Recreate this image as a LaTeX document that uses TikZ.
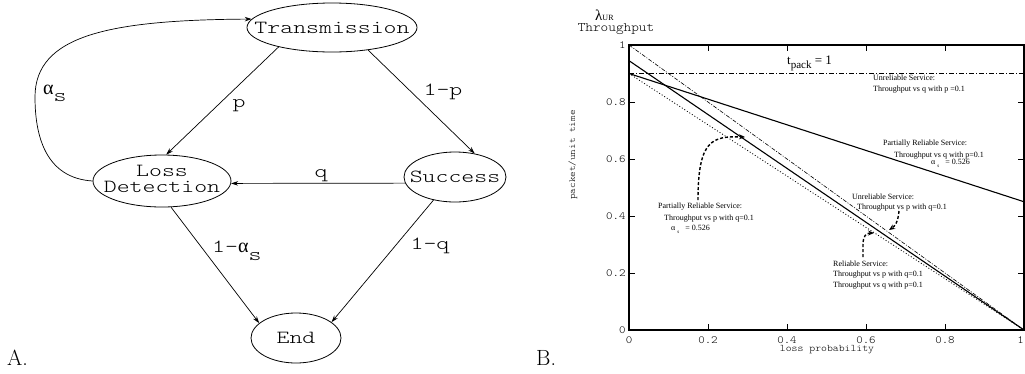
\documentclass[tikz,border=0pt]{standalone}
\usepackage{fontspec}
\newfontfamily\cour[FakeStretch=1.33]{lmmonolt10-regular.otf}
\newfontfamily\courp[FakeStretch=1.12]{lmmonolt10-regular.otf}
\newfontfamily\tms{Liberation Serif}
\usetikzlibrary{arrows.meta,shapes.geometric}
\newcommand\bigmono{\cour\fontsize{18.5}{14.5}\selectfont}
\newcommand\alp{{\tms\fontsize{20}{20}\selectfont α}}
\begin{document}
\begin{tikzpicture}[x=1pt,y=-1pt,
  state/.style={ellipse,draw,line width=0.8pt,inner sep=0pt},
  edge/.style={draw,line width=0.7pt,-{Stealth[length=7pt,width=4.5pt]}},
  lbl/.style={inner sep=0pt,font=\bigmono},
  tick/.style={inner sep=0pt,font=\courp\fontsize{11}{11}\selectfont},
  ann/.style={inner sep=0pt,anchor=west,font=\tms\fontsize{8}{8}\selectfont},
  darr/.style={line width=1.4pt,dash pattern=on 3pt off 2pt,-{Stealth[length=6pt,width=5pt]}},
  curve/.style={line width=1.1pt}]
\useasboundingbox (0,0) rectangle (1025,373);

% ---------- A: state diagram ----------
\node[state,minimum width=170pt,minimum height=49pt] (T) at (332,27.5)
  {\makebox[0pt]{\bigmono Transmission}};
\node[state,minimum width=138pt,minimum height=52pt] (LD) at (162,181)
  {\makebox[0pt]{\bigmono\begin{tabular}{@{}c@{}}Loss\\Detection\end{tabular}}};
\node[state,minimum width=102pt,minimum height=50pt] (S) at (455,177)
  {\makebox[0pt]{\bigmono Success}};
\node[state,minimum width=90pt,minimum height=50pt] (E) at (296,338)
  {\makebox[0pt]{\bigmono End}};

\draw[edge] (T.200) -- (LD.81);
\draw[edge] (T.328) -- (S.50);
\draw[edge] (S.187) -- (LD.358);
\draw[edge] (LD.289) -- (E.158);
\draw[edge] (S.227) -- (E.24);
\draw[edge] (LD.west) .. controls (45,178) and (35,135) .. (35,97)
  .. controls (35,35) and (110,20) .. (T.174);

\node[lbl,anchor=base] (lp) at (239,107) {p};
\node[lbl,anchor=base] (l1p) at (443,95) {1-p};
\node[lbl,anchor=base] (lq) at (321,177) {q};
\node[lbl,anchor=base] (l1q) at (430,249) {1-q};
\node[lbl,anchor=base west] (l1a) at (212,252) {1-\alp\raisebox{-8pt}{s}};
\node[lbl,anchor=base west] (la) at (43,94) {\alp\raisebox{-7pt}{s}};

\node[inner sep=0pt,anchor=base west,font=\fontsize{22}{22}\selectfont] (A) at (7,365) {A.};
\node[inner sep=0pt,anchor=base west,font=\fontsize{22}{22}\selectfont] (B) at (536,365) {B.};

% ---------- B: plot ----------
\node[inner sep=0pt,anchor=base west] (lam) at (595,20)
  {{\tms\fontsize{15}{15}\selectfont λ}{\tms\fontsize{8}{8}\selectfont UR}};
\node[inner sep=0pt,font=\courp\fontsize{13}{13}\selectfont] (thr) at (616,29) {Throughput};
\node[inner sep=0pt,rotate=90,font=\courp\fontsize{9.5}{9.5}\selectfont] (ylab) at (573,155) {packet/unit time};
\node[inner sep=0pt,font=\courp\fontsize{10}{10}\selectfont] (xlab) at (827,350) {loss probability};

\begin{scope}[shift={(629,330)},x=395pt,y=285pt]
  \draw[line width=1.1pt] (0,0) rectangle (1,1);
  \foreach \t in {0.2,0.4,0.6,0.8} {
    \draw[line width=0.7pt] (\t,0) -- (\t,0.022);
    \draw[line width=0.7pt] (\t,1) -- (\t,0.978);
    \draw[line width=0.7pt] (0,\t) -- (0.016,\t);
    \draw[line width=0.7pt] (1,\t) -- (0.984,\t);
  }
  \foreach \t/\n in {0/a,0.2/b,0.4/c,0.6/d,0.8/e} {
    \node[tick] (xt\n) at (\t,-0.035) {\t};
  }
  \node[tick,anchor=east] (xtf) at (1.0,-0.035) {1};
  \foreach \t/\n in {0/a,0.2/b,0.4/c,0.6/d,0.8/e,1/f} {
    \node[tick,anchor=east] (yt\n) at (-0.008,\t) {\t};
  }
  % curves
  \draw[line width=0.8pt,dash pattern=on 5pt off 2pt on 1pt off 2pt] (0,0.9) -- (1,0.9);
  \draw[line width=0.6pt,dash pattern=on 4pt off 1.5pt on 1pt off 1.5pt] (0,1) -- (1,0);
  \draw[curve] (0,0.945) -- (1,0);
  \draw[curve] (0,0.9) -- (1,0.45);
  \draw[line width=0.8pt,dash pattern=on 1pt off 2pt] (0,0.9) -- (1,0);
\end{scope}

\node[inner sep=0pt,anchor=base west] (tp) at (787,64)
  {\tms\fontsize{13}{13}\selectfont t\raisebox{-4pt}{\fontsize{11}{11}\selectfont pack} = 1};

\node[ann] (u1a) at (873,78) {Unreliable Service:};
\node[ann] (u1b) at (873,90) {Throughput vs q with p =0.1};

\node[ann] (pq1) at (883,144) {Partially Reliable Service:};
\node[ann] (pq2) at (894,156) {Throughput vs q with p=0.1};
\node[ann] (pq3) at (931,163) {α\hspace{2pt}\raisebox{-3pt}{\fontsize{5}{5}\selectfont s}\hspace{6pt}= 0.526};

\node[ann] (pp1) at (658,207) {Partially Reliable Service:};
\node[ann] (pp2) at (664,219) {Throughput vs p with q=0.1};
\node[ann] (pp3) at (671,229) {α\hspace{2pt}\raisebox{-3pt}{\fontsize{5}{5}\selectfont s}\hspace{6pt}= 0.526};

\node[ann] (up1) at (852,197) {Unreliable Service:};
\node[ann] (up2) at (857,208) {Throughput vs p with q=0.1};

\node[ann] (r1) at (833,264) {Reliable Service:};
\node[ann] (r2) at (833,275) {Throughput vs p with q=0.1};
\node[ann] (r3) at (833,286) {Throughput vs q with p=0.1};

\coordinate (c1) at (745,137);
\coordinate (c2) at (889,230);
\coordinate (c3) at (874,233);
\draw[darr] (698,200) .. controls (698,140) and (712,136) .. (c1);
\draw[darr] (899,211) .. controls (898,222) and (895,226) .. (c2);
\draw[darr] (863,257) -- (863,245) .. controls (863,236) and (866,233) .. (c3);
\end{tikzpicture}
\end{document}
